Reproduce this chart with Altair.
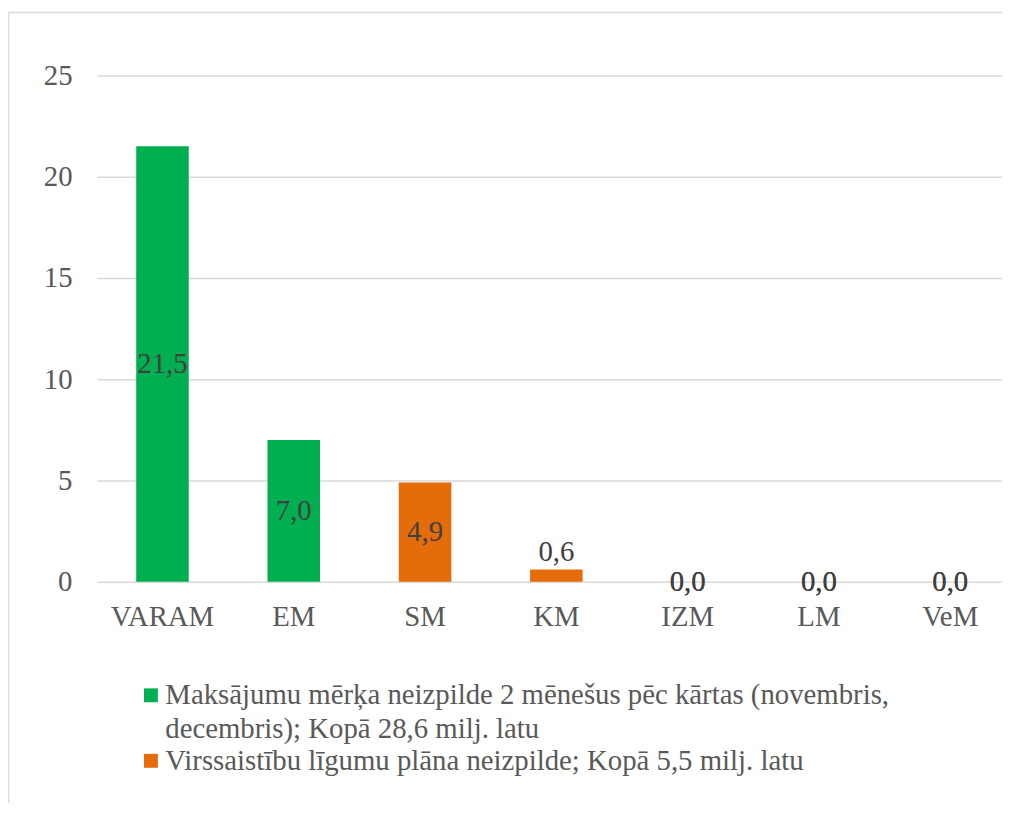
import altair as alt
import pandas as pd

categories = ["VARAM", "EM", "SM", "KM", "IZM", "LM", "VeM"]
series_names = [
    "Maksājumu mērķa neizpilde 2 mēnešus pēc kārtas (novembris, decembris); Kopā 28,6 milj. latu",
    "Virssaistību līgumu plāna neizpilde; Kopā 5,5 milj. latu",
]
green_values = [21.5, 7.0, None, None, 0.0, 0.0, 0.0]
orange_values = [None, None, 4.9, 0.6, 0.0, 0.0, 0.0]
series_colors = ["#00B050", "#E46C0A"]
y_ticks = [0, 5, 10, 15, 20, 25]

rows = []
for name, vals in zip(series_names, [green_values, orange_values]):
    for cat, v in zip(categories, vals):
        if v is not None:
            rows.append({"category": cat, "series": name, "value": v})
df = pd.DataFrame(rows)

FONT = "Liberation Serif"
FS = 29
PLOT_W = 912
PLOT_H = 510

x_enc = alt.X(
    "category:N",
    sort=categories,
    title=None,
    scale=alt.Scale(range=[0, 926], paddingInner=0.6, paddingOuter=0.3),
    axis=alt.Axis(
        domain=False, ticks=False, labelPadding=21, labelFont=FONT,
        labelFontSize=FS, labelColor="#595959", labelAngle=0, grid=False,
    ),
)
y_enc = alt.Y(
    "value:Q",
    stack=None,
    title=None,
    scale=alt.Scale(domain=[0, 25], nice=False),
    axis=alt.Axis(
        values=y_ticks, domain=False, ticks=False, labelPadding=25,
        labelFont=FONT, labelFontSize=FS, labelColor="#595959",
        gridColor="#D9D9D9", gridWidth=1.5,
    ),
)

base = alt.Chart(df)

bars = base.mark_bar().encode(
    x=x_enc,
    y=y_enc,
    color=alt.Color(
        "series:N",
        title=None,
        scale=alt.Scale(domain=series_names, range=series_colors),
        legend=alt.Legend(
            orient="none", legendX=40, legendY=610, symbolType="square",
            symbolSize=196, symbolStrokeWidth=0, labelFont=FONT,
            labelFontSize=FS, labelColor="#595959", labelOffset=0,
            labelLimit=900, rowPadding=2, padding=0,
            labelExpr="split(replace(datum.label, ', decembris', ',|decembris'), '|')",
        ),
    ),
)

lab_calc = "replace(format(datum.value, '.1f'), '.', ',')"

labels_mid = (
    base.transform_filter("datum.value >= 1 || datum.value == 0")
    .transform_calculate(mid="datum.value / 2", lab=lab_calc)
    .mark_text(font=FONT, fontSize=FS, color="#404040", baseline="middle")
    .encode(x=alt.X("category:N", sort=categories), y=alt.Y("mid:Q"), text="lab:N")
)

labels_top = (
    base.transform_filter("datum.value > 0 && datum.value < 1")
    .transform_calculate(lab=lab_calc)
    .mark_text(font=FONT, fontSize=FS, color="#404040", baseline="alphabetic", dy=-9)
    .encode(x=alt.X("category:N", sort=categories), y=alt.Y("value:Q"), text="lab:N")
)

frame_data = alt.Data(values=[{"k": 1}])
left_border = alt.Chart(frame_data).mark_rule(color="#D9D9D9", strokeWidth=1.5).encode(
    x=alt.value(-89), y=alt.value(-63.5), y2=alt.value(PLOT_H + 230)
)
top_border = alt.Chart(frame_data).mark_rule(color="#D9D9D9", strokeWidth=1.5).encode(
    x=alt.value(-89), x2=alt.value(PLOT_W + 20), y=alt.value(-63.5)
)

chart = (
    alt.layer(bars, labels_mid, labels_top, left_border, top_border)
    .properties(
        width=PLOT_W,
        height=PLOT_H,
        autosize=alt.AutoSizeParams(type="none"),
        padding={"left": 89.5, "top": 65, "right": 0, "bottom": 220},
    )
    .configure(background="white", style={"guide-label": {"lineHeight": 34}})
    .configure_view(stroke=None)
)

chart.save("out.html", embed_options={"renderer": "svg", "actions": False})
